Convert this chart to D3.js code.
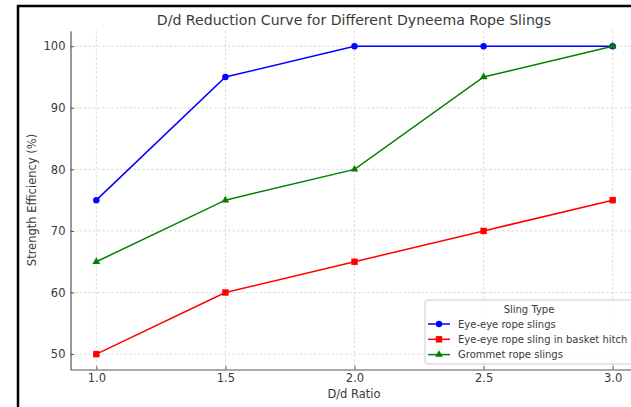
<!DOCTYPE html>
<html><head><meta charset="utf-8">
<script src="https://cdn.jsdelivr.net/npm/d3@7"></script>
<style>
html,body{margin:0;padding:0;background:#fff;}
svg{display:block;font-family:"DejaVu Sans",sans-serif;}
</style></head>
<body>
<svg id="c" width="631" height="407"></svg>
<script>
const ratios = [1.0, 1.5, 2.0, 2.5, 3.0];
const eyeEye = [75, 95, 100, 100, 100];
const basket = [50, 60, 65, 70, 75];
const grommet = [65, 75, 80, 95, 100];
const seriesNames = ["Eye-eye rope slings", "Eye-eye rope sling in basket hitch", "Grommet rope slings"];
const xTicks = [1.0, 1.5, 2.0, 2.5, 3.0];
const yTicks = [50, 60, 70, 80, 90, 100];

const series = [
  {name: seriesNames[0], values: eyeEye, color: "#0000ff", marker: "circle"},
  {name: seriesNames[1], values: basket, color: "#ff0000", marker: "square"},
  {name: seriesNames[2], values: grommet, color: "#008000", marker: "triangle"}
];

const svg = d3.select("#c");
const textColor = "#3a3a3a";
const x = d3.scaleLinear().domain([0.9, 3.1]).range([70.5, 638.5]);
const y = d3.scaleLinear().domain([47.5, 102.5]).range([369.5, 30.8]);

// frame
svg.append("rect").attr("x", 18).attr("y", 6).attr("width", 640).attr("height", 420)
  .attr("fill", "none").attr("stroke", "#000").attr("stroke-width", 2.5);

// grid
const g = svg.append("g");
g.selectAll(".gx").data(xTicks).enter().append("line")
  .attr("x1", d => x(d)).attr("x2", d => x(d)).attr("y1", y(102.5)).attr("y2", y(47.5))
  .attr("stroke", "#d0d0d0").attr("stroke-width", 0.8).attr("stroke-dasharray", "2.5,2");
g.selectAll(".gy").data(yTicks).enter().append("line")
  .attr("y1", d => y(d)).attr("y2", d => y(d)).attr("x1", x(0.9)).attr("x2", 631)
  .attr("stroke", "#d0d0d0").attr("stroke-width", 0.8).attr("stroke-dasharray", "2.5,2");

// axes
const xAxis = d3.axisBottom(x).tickValues(xTicks).tickFormat(d3.format(".1f")).tickSizeInner(-3.5).tickSizeOuter(0).tickPadding(4.5);
const yAxis = d3.axisLeft(y).tickValues(yTicks).tickSizeInner(-3.5).tickSizeOuter(0).tickPadding(5);
const gx = svg.append("g").attr("transform", `translate(0,${y(47.5)})`).call(xAxis);
const gy = svg.append("g").attr("transform", `translate(${x(0.9)},0)`).call(yAxis);
[gx, gy].forEach(a => {
  a.select(".domain").attr("stroke", "#555").attr("stroke-width", 1.2);
  a.selectAll(".tick line").attr("stroke", "#555");
  a.selectAll("text").attr("fill", textColor).style("font-size", "11.5px").style("font-family", "DejaVu Sans");
});

// lines and markers
const line = d3.line().x((d, i) => x(ratios[i])).y(d => y(d));
function drawMarker(sel, type, color) {
  if (type === "circle") {
    sel.append("circle").attr("r", 3.2).attr("fill", color);
  } else if (type === "square") {
    sel.append("rect").attr("x", -3.2).attr("y", -3.2).attr("width", 6.4).attr("height", 6.4).attr("fill", color);
  } else {
    sel.append("path").attr("d", d3.symbol().type(d3.symbolTriangle).size(26)()).attr("fill", color);
  }
}
series.forEach(s => {
  svg.append("path").datum(s.values).attr("d", line).attr("fill", "none")
    .attr("stroke", s.color).attr("stroke-width", 1.5);
  s.values.forEach((v, i) => {
    const m = svg.append("g").attr("transform", `translate(${x(ratios[i])},${y(v)})`);
    drawMarker(m, s.marker, s.color);
  });
});

// title & labels
svg.append("text").attr("x", 354).attr("y", 24.5).attr("text-anchor", "middle")
  .attr("fill", textColor).style("font-size", "14.1px").text("D/d Reduction Curve for Different Dyneema Rope Slings");
svg.append("text").attr("x", 354).attr("y", 398).attr("text-anchor", "middle")
  .attr("fill", textColor).style("font-size", "11.5px").text("D/d Ratio");
svg.append("text").attr("transform", "translate(36,200) rotate(-90)").attr("text-anchor", "middle")
  .attr("fill", textColor).style("font-size", "11.5px").text("Strength Efficiency (%)");

// legend
const lg = svg.append("g").attr("transform", "translate(425,300)");
lg.append("rect").attr("x", 0).attr("y", 0).attr("width", 215).attr("height", 64).attr("rx", 3)
  .attr("fill", "#fff").attr("fill-opacity", 0.85).attr("stroke", "#ccc").attr("stroke-width", 1);
lg.append("text").attr("x", 104).attr("y", 13).attr("text-anchor", "middle").attr("fill", textColor)
  .style("font-size", "10px").text("Sling Type");
series.forEach((s, i) => {
  const yy = 24 + i * 15.3;
  lg.append("line").attr("x1", 3).attr("x2", 25).attr("y1", yy).attr("y2", yy)
    .attr("stroke", s.color).attr("stroke-width", 1.5);
  const m = lg.append("g").attr("transform", `translate(14,${yy})`);
  drawMarker(m, s.marker, s.color);
  lg.append("text").attr("x", 33).attr("y", yy + 3.5).attr("fill", textColor)
    .style("font-size", "10px").text(s.name);
});
</script>
</body></html>
